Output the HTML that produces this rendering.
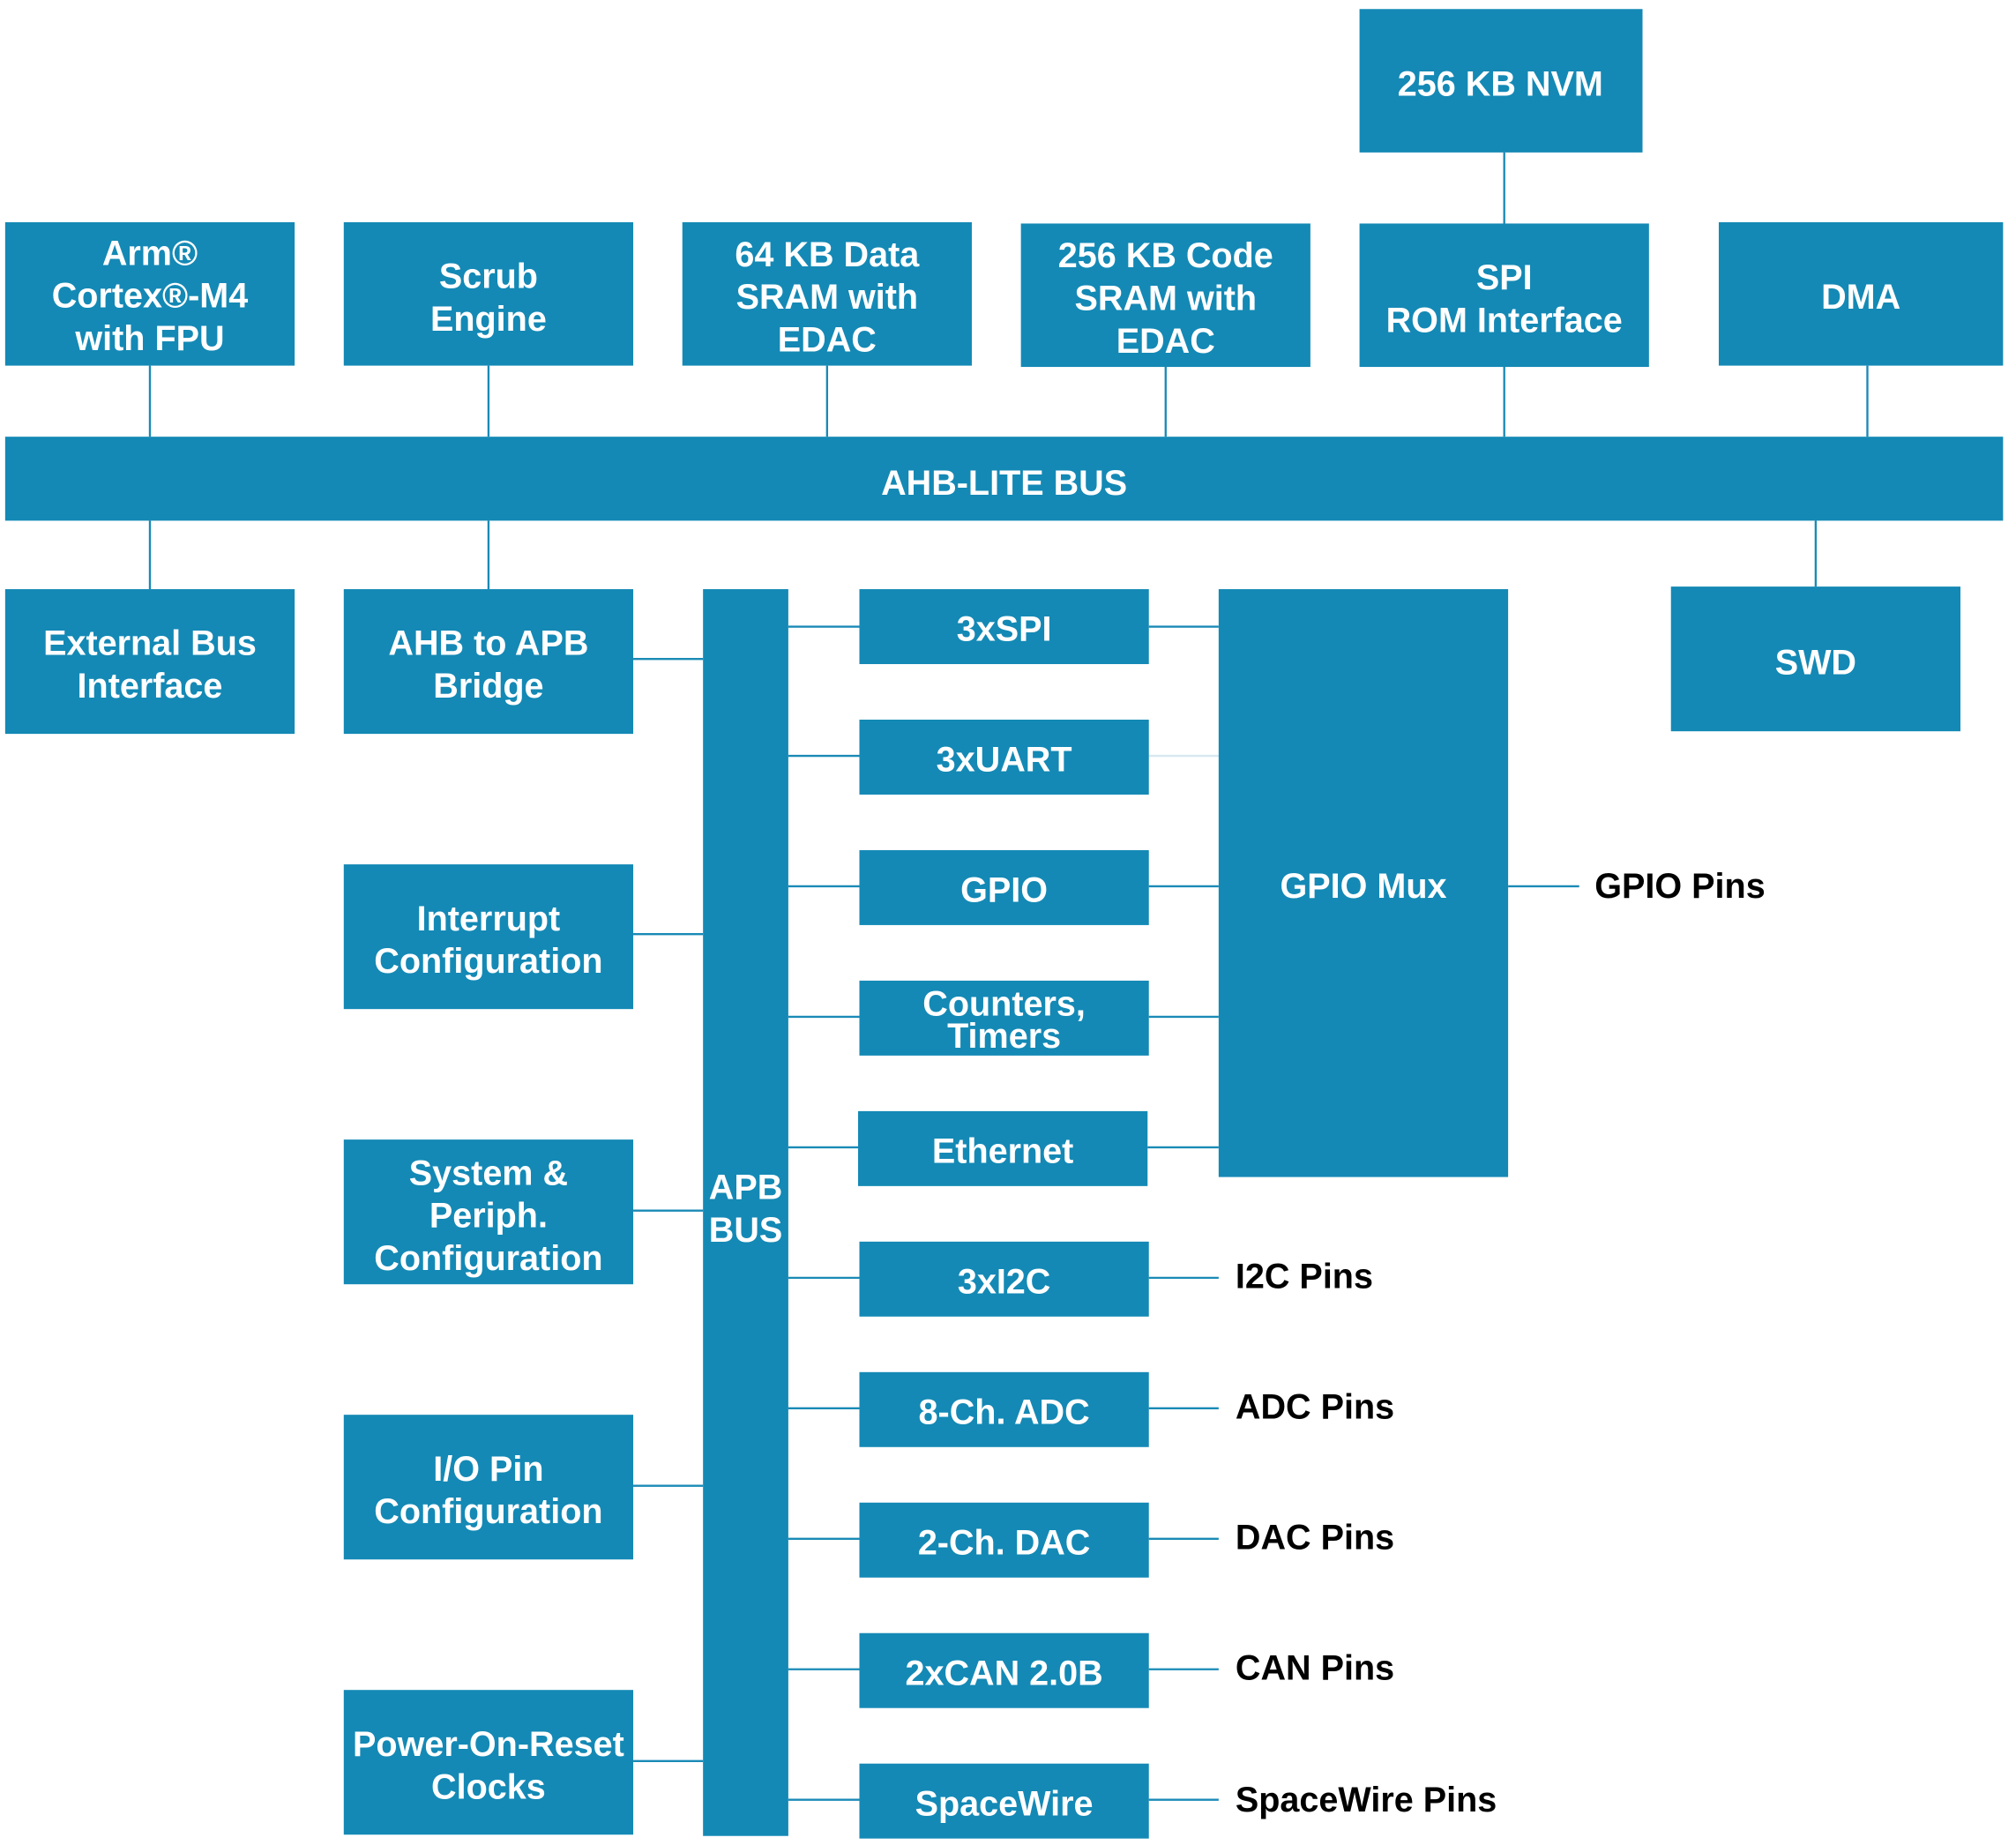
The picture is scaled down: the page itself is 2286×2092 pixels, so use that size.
<!DOCTYPE html>
<html><head><meta charset="utf-8"><style>
html,body{margin:0;padding:0;background:#fff;}
svg{display:block;}
text{font-family:"Liberation Sans",Arial,sans-serif;font-weight:bold;}
</style></head><body>
<svg width="2286" height="2092" viewBox="0 0 1560 1428" preserveAspectRatio="none" xmlns="http://www.w3.org/2000/svg">
<g stroke="#1a8ab6" stroke-width="1.6" fill="none">
<line x1="1164" y1="118" x2="1164" y2="173"/>
<line x1="116" y1="283" x2="116" y2="338"/>
<line x1="378" y1="283" x2="378" y2="338"/>
<line x1="640" y1="283" x2="640" y2="338"/>
<line x1="902" y1="284" x2="902" y2="338"/>
<line x1="1164" y1="284" x2="1164" y2="338"/>
<line x1="1445" y1="283" x2="1445" y2="338"/>
<line x1="116" y1="403" x2="116" y2="456"/>
<line x1="378" y1="403" x2="378" y2="456"/>
<line x1="1405" y1="403" x2="1405" y2="454"/>
<line x1="490" y1="510" x2="544" y2="510"/>
<line x1="490" y1="723" x2="544" y2="723"/>
<line x1="490" y1="937" x2="544" y2="937"/>
<line x1="490" y1="1150" x2="544" y2="1150"/>
<line x1="490" y1="1363" x2="544" y2="1363"/>
<line x1="610" y1="485" x2="665" y2="485"/>
<line x1="610" y1="585" x2="665" y2="585"/>
<line x1="610" y1="686" x2="665" y2="686"/>
<line x1="610" y1="787" x2="665" y2="787"/>
<line x1="610" y1="888" x2="665" y2="888"/>
<line x1="610" y1="989" x2="665" y2="989"/>
<line x1="610" y1="1090" x2="665" y2="1090"/>
<line x1="610" y1="1191" x2="665" y2="1191"/>
<line x1="610" y1="1292" x2="665" y2="1292"/>
<line x1="610" y1="1393" x2="665" y2="1393"/>
<line x1="889" y1="485" x2="943" y2="485"/>
<line x1="889" y1="585" x2="943" y2="585" stroke="#d8e8ef"/>
<line x1="889" y1="686" x2="943" y2="686"/>
<line x1="889" y1="787" x2="943" y2="787"/>
<line x1="888" y1="888" x2="943" y2="888"/>
<line x1="1167" y1="686" x2="1222" y2="686"/>
<line x1="889" y1="989" x2="943" y2="989"/>
<line x1="889" y1="1090" x2="943" y2="1090"/>
<line x1="889" y1="1191" x2="943" y2="1191"/>
<line x1="889" y1="1292" x2="943" y2="1292"/>
<line x1="889" y1="1393" x2="943" y2="1393"/>
</g>
<g fill="#1489b5">
<rect x="1052" y="7" width="219" height="111"/>
<rect x="4" y="172" width="224" height="111"/>
<rect x="266" y="172" width="224" height="111"/>
<rect x="528" y="172" width="224" height="111"/>
<rect x="790" y="173" width="224" height="111"/>
<rect x="1052" y="173" width="224" height="111"/>
<rect x="1330" y="172" width="220" height="111"/>
<rect x="4" y="338" width="1546" height="65"/>
<rect x="4" y="456" width="224" height="112"/>
<rect x="266" y="456" width="224" height="112"/>
<rect x="1293" y="454" width="224" height="112"/>
<rect x="544" y="456" width="66" height="965"/>
<rect x="665" y="456" width="224" height="58"/>
<rect x="665" y="557" width="224" height="58"/>
<rect x="665" y="658" width="224" height="58"/>
<rect x="665" y="759" width="224" height="58"/>
<rect x="664" y="860" width="224" height="58"/>
<rect x="665" y="961" width="224" height="58"/>
<rect x="665" y="1062" width="224" height="58"/>
<rect x="665" y="1163" width="224" height="58"/>
<rect x="665" y="1264" width="224" height="58"/>
<rect x="665" y="1365" width="224" height="58"/>
<rect x="943" y="456" width="224" height="455"/>
<rect x="266" y="669" width="224" height="112"/>
<rect x="266" y="882" width="224" height="112"/>
<rect x="266" y="1095" width="224" height="112"/>
<rect x="266" y="1308" width="224" height="112"/>
</g>
<g fill="#fff" font-size="27" text-anchor="middle">
<text x="1161" y="74">256 KB NVM</text>
<text x="116" y="205">Arm®</text><text x="116" y="238">Cortex®-M4</text><text x="116" y="271">with FPU</text>
<text x="378" y="223">Scrub</text><text x="378" y="256">Engine</text>
<text x="640" y="206">64 KB Data</text><text x="640" y="239">SRAM with</text><text x="640" y="272">EDAC</text>
<text x="902" y="207">256 KB Code</text><text x="902" y="240">SRAM with</text><text x="902" y="273">EDAC</text>
<text x="1164" y="224">SPI</text><text x="1164" y="257">ROM Interface</text>
<text x="1440" y="239">DMA</text>
<text x="777" y="383">AHB-LITE BUS</text>
<text x="116" y="507">External Bus</text><text x="116" y="540">Interface</text>
<text x="378" y="507">AHB to APB</text><text x="378" y="540">Bridge</text>
<text x="1405" y="522">SWD</text>
<text x="577" y="928">APB</text><text x="577" y="961">BUS</text>
<text x="777" y="496">3xSPI</text>
<text x="777" y="597">3xUART</text>
<text x="777" y="698">GPIO</text>
<text x="777" y="786">Counters,</text><text x="777" y="811">Timers</text>
<text x="776" y="900">Ethernet</text>
<text x="777" y="1001">3xI2C</text>
<text x="777" y="1102">8-Ch. ADC</text>
<text x="777" y="1203">2-Ch. DAC</text>
<text x="777" y="1304">2xCAN 2.0B</text>
<text x="777" y="1405">SpaceWire</text>
<text x="1055" y="695">GPIO Mux</text>
<text x="378" y="720">Interrupt</text><text x="378" y="753">Configuration</text>
<text x="378" y="917">System &amp;</text><text x="378" y="950">Periph.</text><text x="378" y="983">Configuration</text>
<text x="378" y="1146">I/O Pin</text><text x="378" y="1179">Configuration</text>
<text x="378" y="1359">Power-On-Reset</text><text x="378" y="1392">Clocks</text>
</g>
<g fill="#000" font-size="27">
<text x="1234" y="695">GPIO Pins</text>
<text x="956" y="997">I2C Pins</text>
<text x="956" y="1098">ADC Pins</text>
<text x="956" y="1199">DAC Pins</text>
<text x="956" y="1300">CAN Pins</text>
<text x="956" y="1402">SpaceWire Pins</text>
</g>
</svg>
</body></html>
